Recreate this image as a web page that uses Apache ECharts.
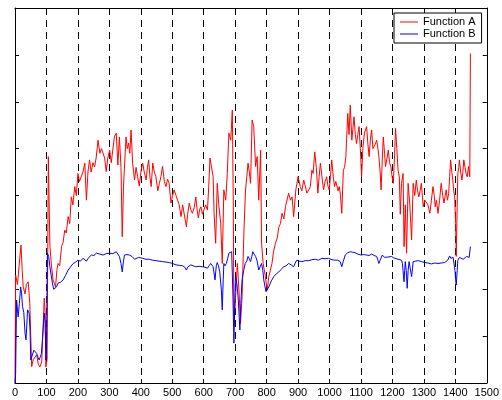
<!DOCTYPE html>
<html>
<head>
<meta charset="utf-8">
<script src="https://cdn.jsdelivr.net/npm/echarts@6/dist/echarts.min.js"></script>
<style>html,body{margin:0;padding:0;background:#fff}#c{width:502px;height:400px}</style>
</head>
<body>
<div id="c"></div>
<script>
const seriesNames = ["Function A", "Function B"];
const xTicks = [0,100,200,300,400,500,600,700,800,900,1000,1100,1200,1300,1400,1500];

const aX = [0,2,8,13,19,23,26,32,36,42,47,53,58,63,69,74,79,85,90,93,96,98,102,106,111,116,121,129,133,137,142,148,153,158,163,169,174,179,184,190,195,200,205,211,216,222,227,232,237,242,248,253,258,264,270,275,280,285,290,295,301,306,311,316,322,327,332,337,341,345,353,357,361,365,369,374,380,385,390,395,401,406,411,417,421,425,429,433,438,443,448,454,459,464,469,475,480,485,490,496,501,506,512,517,522,528,533,538,545,549,554,559,564,570,575,579,583,587,591,596,601,606,612,616,620,626,630,633,638,643,648,654,659,664,670,675,680,686,691,694,696,707,712,717,722,728,733,737,741,745,749,754,759,765,770,775,781,784,789,796,802,807,812,817,822,828,834,839,844,849,855,860,865,870,876,881,886,893,900,907,912,918,923,928,934,939,944,948,953,958,963,967,971,976,981,986,991,995,999,1003,1007,1012,1016,1020,1023,1027,1031,1035,1039,1044,1048,1052,1058,1062,1066,1071,1074,1078,1082,1086,1090,1094,1098,1102,1106,1111,1118,1122,1126,1130,1134,1138,1142,1146,1150,1154,1157,1161,1164,1168,1171,1175,1178,1183,1187,1191,1195,1199,1203,1207,1210,1214,1218,1222,1225,1229,1234,1237,1241,1245,1250,1255,1261,1266,1271,1276,1280,1284,1288,1292,1298,1303,1308,1313,1319,1324,1329,1333,1336,1340,1345,1350,1355,1360,1364,1368,1371,1375,1379,1382,1385,1389,1392,1395,1398,1401,1403,1406,1408,1411,1413,1417,1421,1424,1427,1431,1434,1438,1442,1446,1448];
const aY = [0.0,2.3,2.1,2.5,2.94,2.4,2.05,1.9,2.1,2.16,1.7,0.35,0.5,0.53,0.6,0.4,0.34,0.45,0.49,1.81,1.5,0.34,0.5,4.83,2.91,2.5,2.2,2.05,2.4,2.55,2.5,2.91,3.0,3.26,3.2,3.55,3.4,3.97,3.8,4.19,4.0,4.47,4.3,4.26,4.5,4.69,3.9,4.5,4.76,4.5,4.7,4.61,4.8,5.18,4.9,5.0,5.04,4.8,4.51,4.8,4.97,4.7,4.69,5.25,5.33,4.65,5.25,4.6,3.12,4.2,5.25,5.0,5.12,4.9,5.4,4.69,4.33,4.6,4.4,4.2,4.54,4.69,4.5,4.33,4.6,4.76,4.4,4.19,4.69,4.5,4.4,4.1,4.26,4.4,4.62,4.3,4.19,4.35,4.26,3.84,4.0,4.12,4.0,3.97,3.8,3.55,3.8,3.76,3.33,3.6,3.84,3.7,3.62,3.75,3.97,3.7,3.52,3.7,3.76,3.6,3.62,3.8,3.69,4.2,4.8,4.79,4.4,3.62,2.98,4.26,3.8,3.41,2.55,4.12,3.9,4.47,5.33,5.18,5.82,3.9,1.2,2.55,2.0,1.27,1.84,3.26,4.12,4.4,4.69,4.5,4.26,5.61,5.47,4.62,4.83,3.9,4.97,2.98,2.55,2.27,1.98,2.27,2.3,2.55,2.8,2.98,3.1,3.33,3.4,3.62,3.5,3.76,3.8,4.05,3.9,3.97,3.55,4.12,4.4,4.19,4.1,4.33,4.2,4.05,4.12,4.19,4.54,4.47,4.93,4.6,4.05,4.4,4.69,4.4,4.12,4.3,4.4,4.2,4.12,4.4,4.76,4.4,4.19,4.3,4.33,4.1,4.19,4.0,3.62,4.54,4.6,4.83,5.75,5.3,5.93,5.18,5.4,5.68,5.3,5.11,5.3,5.47,5.0,4.4,5.0,5.33,5.47,5.1,4.83,5.2,5.4,5.0,4.97,5.1,5.18,5.0,4.83,4.5,4.12,4.8,5.25,4.9,4.62,4.8,4.97,4.7,4.62,4.4,4.26,4.9,5.43,5.0,4.54,4.4,3.6,4.26,4.47,2.91,3.8,2.77,4.26,3.84,3.05,4.26,4.0,4.33,4.1,3.97,4.1,4.26,3.76,3.9,3.9,3.8,3.62,3.9,4.19,4.0,3.76,3.9,3.62,3.9,4.26,4.0,3.84,4.0,4.12,3.9,4.05,4.4,4.76,4.5,4.33,4.1,3.97,3.4,2.7,3.8,4.47,4.6,4.76,4.5,4.33,4.5,4.76,4.6,4.47,4.4,4.62,4.4,7.03];

const bX = [0,2,5,10,14,18,21,24,28,32,35,40,45,48,50,53,56,60,63,66,69,73,77,80,84,88,93,96,98,100,103,107,111,115,119,123,127,132,137,145,153,161,169,177,185,193,200,208,216,222,227,235,243,251,259,270,280,290,301,311,322,332,337,341,345,348,356,364,372,380,393,406,416,427,437,448,458,469,480,490,501,512,522,533,540,545,550,559,567,575,585,596,604,612,617,622,627,630,636,640,643,647,651,656,659,662,664,668,672,676,680,685,689,693,696,699,701,706,710,713,715,718,722,727,732,737,741,745,749,753,756,760,765,770,775,780,784,788,791,795,798,802,807,815,823,831,839,846,854,862,870,878,886,891,896,904,912,923,934,944,955,965,976,986,997,1008,1018,1026,1034,1039,1044,1050,1058,1066,1074,1081,1090,1100,1109,1118,1126,1134,1142,1150,1154,1157,1161,1168,1175,1181,1189,1197,1204,1210,1218,1224,1229,1232,1235,1237,1239,1241,1244,1247,1250,1253,1257,1261,1264,1266,1274,1282,1292,1303,1313,1324,1335,1345,1355,1366,1376,1382,1386,1389,1393,1396,1399,1401,1403,1406,1408,1413,1419,1425,1430,1436,1440,1444,1448];
const bY = [0.0,0.2,1.77,1.41,1.7,2.05,1.9,1.63,1.5,1.06,0.92,1.56,1.49,1.1,0.49,0.45,0.49,0.7,0.74,0.7,0.63,0.55,0.49,0.55,0.63,1.0,1.49,1.3,0.49,0.6,2.77,2.7,2.48,2.3,2.13,2.0,1.98,2.05,2.13,2.15,2.2,2.3,2.41,2.48,2.55,2.58,2.62,2.6,2.66,2.62,2.6,2.68,2.73,2.72,2.77,2.75,2.73,2.76,2.77,2.76,2.8,2.7,2.55,2.37,2.6,2.73,2.74,2.73,2.7,2.64,2.68,2.66,2.64,2.64,2.62,2.61,2.6,2.59,2.58,2.57,2.55,2.52,2.51,2.5,2.47,2.41,2.48,2.52,2.5,2.48,2.49,2.48,2.47,2.45,2.5,2.55,2.55,2.48,2.2,2.5,2.57,2.5,2.37,2.0,1.56,2.2,2.55,2.5,2.55,2.65,2.77,2.75,2.8,1.84,0.85,1.8,2.27,2.1,1.77,1.4,1.13,1.7,2.2,2.4,2.55,2.6,2.7,2.65,2.59,2.7,2.8,2.75,2.7,2.6,2.41,2.45,2.55,2.4,2.2,2.05,1.95,1.98,2.05,2.18,2.27,2.33,2.37,2.42,2.48,2.5,2.55,2.52,2.48,2.56,2.62,2.6,2.59,2.61,2.61,2.63,2.64,2.62,2.66,2.65,2.66,2.63,2.62,2.62,2.59,2.48,2.6,2.73,2.78,2.8,2.79,2.78,2.75,2.73,2.74,2.73,2.72,2.75,2.72,2.7,2.62,2.55,2.62,2.73,2.68,2.66,2.69,2.7,2.67,2.66,2.64,2.62,2.62,2.55,2.3,2.16,2.4,2.59,2.4,2.02,2.4,2.59,2.55,2.27,2.45,2.59,2.6,2.61,2.59,2.57,2.56,2.54,2.56,2.55,2.56,2.57,2.62,2.71,2.66,2.62,2.68,2.66,2.4,2.2,2.09,2.4,2.62,2.68,2.7,2.64,2.66,2.7,2.71,2.68,2.91];

const zip = (xs, ys) => xs.map((x, i) => [x, ys[i]]);

const chart = echarts.init(document.getElementById('c'), null, {renderer: 'canvas'});
const font = '"Liberation Sans", Arial, Helvetica, sans-serif';
const axisLine = {show: true, onZero: false, lineStyle: {color: '#000', width: 1}};
const tick = {show: true, inside: true, length: 4, lineStyle: {color: '#000', width: 1}};
chart.setOption({
  animation: false,
  backgroundColor: '#fff',
  grid: {left: 15, right: 13, top: 8, bottom: 17, containLabel: false},
  legend: {
    show: true,
    orient: 'vertical',
    left: 394, top: 13,
    padding: [3, 6, 3, 6],
    itemGap: 0,
    itemWidth: 18, itemHeight: 1,
    borderColor: '#000', borderWidth: 1,
    backgroundColor: '#fff',
    textStyle: {fontFamily: font, fontSize: 11, color: '#000', lineHeight: 12},
    data: [
      {name: seriesNames[0], icon: 'rect', itemStyle: {color: '#ff0000'}},
      {name: seriesNames[1], icon: 'rect', itemStyle: {color: '#0000ff'}}
    ]
  },
  xAxis: [
    {
      type: 'value', position: 'bottom', min: 0, max: 1500, interval: 100,
      axisLine: axisLine, axisTick: tick,
      axisLabel: {show: true, fontFamily: font, fontSize: 11, color: '#000', margin: 4,
        formatter: v => xTicks.includes(v) ? String(v) : ''},
      splitLine: {show: true, lineStyle: {color: '#000', type: [7, 5], width: 1}}
    },
    {
      type: 'value', position: 'top', min: 0, max: 1500, interval: 100,
      axisLine: axisLine, axisTick: tick, axisLabel: {show: false}, splitLine: {show: false}
    }
  ],
  yAxis: [
    {
      type: 'value', position: 'left', min: 0, max: 8, interval: 1,
      axisLine: axisLine, axisTick: tick, axisLabel: {show: false}, splitLine: {show: false}
    },
    {
      type: 'value', position: 'right', min: 0, max: 8, interval: 1,
      axisLine: axisLine, axisTick: tick, axisLabel: {show: false}, splitLine: {show: false}
    }
  ],
  series: [
    {
      name: seriesNames[0], type: 'line', xAxisIndex: 0, yAxisIndex: 0,
      data: zip(aX, aY), showSymbol: false, symbol: 'none',
      lineStyle: {color: '#ff0000', width: 1}, itemStyle: {color: '#ff0000'}
    },
    {
      name: seriesNames[1], type: 'line', xAxisIndex: 0, yAxisIndex: 0,
      data: zip(bX, bY), showSymbol: false, symbol: 'none',
      lineStyle: {color: '#0000ff', width: 1}, itemStyle: {color: '#0000ff'}
    }
  ]
});
</script>
</body>
</html>
